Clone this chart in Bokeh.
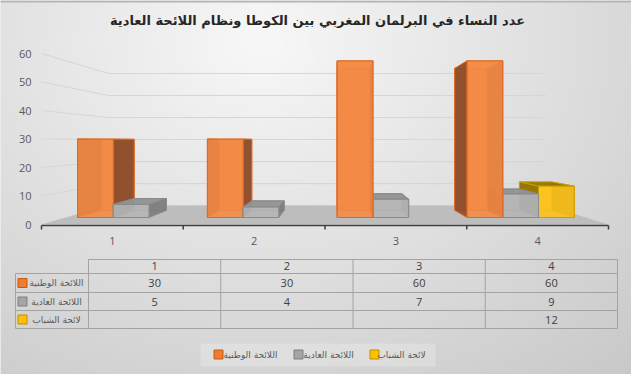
import numpy as np
from bokeh.plotting import figure
from bokeh.models import Range1d, ColumnDataSource
from bokeh.core.properties import value
from bokeh.embed import file_html
from bokeh.resources import INLINE

# ---------------- data ----------------
title_text = "عدد النساء في البرلمان المغربي بين الكوطا ونظام اللائحة العادية"
categories = ["1", "2", "3", "4"]
series_names = ["اللائحة الوطنية", "اللائحة العادية", "لائحة الشباب"]
national = [30, 30, 60, 60]
ordinary = [5, 4, 7, 9]
youth = [None, None, None, 12]
y_ticks = [0, 10, 20, 30, 40, 50, 60]

series_vals = [national, ordinary, youth]
series_front = ["#F28A44", "#B5B5B5", "#FCC21C"]
series_side = ["#86492A", "#7B7B7B", "#8C6E00"]
series_top = ["#F5A26A", "#939393", "#8F7505"]
series_edge = ["#DE6A22", "#8A8A8A", "#CC9D00"]
legend_fill = ["#ED7D31", "#A5A5A5", "#FFC000"]
legend_edge = ["#C55A11", "#7F7F7F", "#BF9000"]

# ---------------- layout helpers (reference pixel -> data units) ----------------
CW, CH = 631, 374
PX0, PXS = 41.0, 141.75
PY0, PYS = 224.0, 2.85


def X(px):
    return (px - PX0) / PXS


def Y(py):
    return (PY0 - py) / PYS


p = figure(width=CW, height=CH,
           x_range=Range1d(X(0), X(CW)), y_range=Range1d(Y(CH), Y(0)),
           output_backend="svg", toolbar_location=None, min_border=0,
           x_axis_location=None, y_axis_location=None, title=None)
p.grid.visible = False
p.outline_line_color = None
p.background_fill_color = "#e4e4e4"
p.border_fill_color = "#e4e4e4"

# background gradient
H, W = 94, 158
yy = np.linspace(CH, 0, H)
xx = np.linspace(0, CW, W)
gx, gy = np.meshgrid(xx, yy)
d = np.sqrt(((gx - 260) / 420) ** 2 + ((gy - 40) / 330) ** 2)
shade = np.clip(248 - 35 * d, 195, 250).astype(np.uint8)
img = np.empty((H, W), dtype=np.uint32)
view = img.view(dtype=np.uint8).reshape((H, W, 4))
view[..., 0] = shade
view[..., 1] = shade
view[..., 2] = shade
view[..., 3] = 255
p.image_rgba(image=[img], x=X(0), y=Y(CH), dw=X(CW) - X(0), dh=Y(0) - Y(CH))
p.segment([X(0)], [Y(1)], [X(CW)], [Y(1)], line_color="#b4b4b4", line_width=2)

# ---------------- 3D projection ----------------
CX, CY = X(335), Y(140.8)
S_FRONT, S_BACK = 1.0, 0.772      # floor / walls
SF, SB = 0.916, 0.83              # bar depth
n_cat = len(categories)


def proj(x, v, s):
    return CX + s * (x - CX), CY + s * (v - CY)


fl = [proj(0, 0, S_FRONT), proj(n_cat, 0, S_FRONT), proj(n_cat, 0, S_BACK), proj(0, 0, S_BACK)]

# gridlines: left wall + back wall
gx0, gy0, gx1, gy1 = [], [], [], []
for t in y_ticks:
    a = proj(0, t, S_FRONT)
    b = proj(0, t, S_BACK)
    c = proj(n_cat, t, S_BACK)
    gx0 += [a[0], b[0]]
    gy0 += [a[1], b[1]]
    gx1 += [b[0], c[0]]
    gy1 += [b[1], c[1]]
p.segment(gx0, gy0, gx1, gy1, line_color="#d6d6d6", line_width=1.2)
# floor
p.patch([q[0] for q in fl], [q[1] for q in fl], fill_color="#bdbdbd", line_color=None)

# bars
bar_w, gap = 0.275, 0.0875
bars = []
for j, vals in enumerate(series_vals):
    for i, v in enumerate(vals):
        if v is None:
            continue
        x0 = i + gap + j * bar_w
        x1 = x0 + bar_w
        bars.append((abs((x0 + x1) / 2 - CX), j, x0, x1, v))
bars.sort(key=lambda b: -b[0])

fx, fy, fc, fa, lc = [], [], [], [], []


def add_face(pts, color, alpha, edge):
    fx.append([q[0] for q in pts])
    fy.append([q[1] for q in pts])
    fc.append(color)
    fa.append(alpha)
    lc.append(edge)


for _, j, x0, x1, v in bars:
    back = [proj(x0, 0, SB), proj(x1, 0, SB), proj(x1, v, SB), proj(x0, v, SB)]
    left = [proj(x0, 0, SF), proj(x0, v, SF), proj(x0, v, SB), proj(x0, 0, SB)]
    right = [proj(x1, 0, SF), proj(x1, v, SF), proj(x1, v, SB), proj(x1, 0, SB)]
    top = [proj(x0, v, SF), proj(x1, v, SF), proj(x1, v, SB), proj(x0, v, SB)]
    front = [proj(x0, 0, SF), proj(x1, 0, SF), proj(x1, v, SF), proj(x0, v, SF)]
    add_face(back, series_front[j], 0.9, series_edge[j])
    if x1 < CX:
        add_face(left, series_side[j], 0.9, series_edge[j])
        add_face(top, series_top[j], 0.95, series_edge[j])
        add_face(right, series_side[j], 0.9, series_edge[j])
    else:
        add_face(right, series_side[j], 0.9, series_edge[j])
        add_face(top, series_top[j], 0.95, series_edge[j])
        add_face(left, series_side[j], 0.9, series_edge[j])
    add_face(front, series_front[j], 0.88, series_edge[j])

src = ColumnDataSource(dict(xs=fx, ys=fy, fc=fc, fa=fa, lc=lc))
p.patches("xs", "ys", source=src, fill_color="fc", fill_alpha="fa",
          line_color="lc", line_width=1)

# category axis
p.segment([0], [Y(225)], [n_cat], [Y(225)], line_color="#3f3f3f", line_width=1.5)
p.segment(list(range(n_cat + 1)), [Y(225)] * (n_cat + 1),
          list(range(n_cat + 1)), [Y(229)] * (n_cat + 1), line_color="#3f3f3f", line_width=1.5)
p.text(x=[i + 0.5 for i in range(n_cat)], y=[Y(240)] * n_cat, text=categories,
       text_align="center", text_baseline="middle", text_font=value("Open Sans"),
       text_font_size="11px", text_color="#595959")

# value axis labels
p.text(x=[X(31)] * len(y_ticks), y=y_ticks, text=[str(t) for t in y_ticks],
       text_align="right", text_baseline="middle", text_font=value("Open Sans"),
       text_font_size="11px", text_color="#595959")

# title
p.text(x=[X(317)], y=[Y(20)], text=[title_text], text_align="center", text_baseline="middle",
       text_font=value("DejaVu Sans"), text_font_style="bold", text_font_size="13px",
       text_color="#262626")

# ---------------- data table ----------------
col_edges = [88 + 132.25 * k for k in range(n_cat + 1)]
row_edges = [259, 273, 292, 310, 328]
row_centers = [282.5, 301, 319]
hx0, hy0, hx1, hy1 = [], [], [], []
hx0.append(X(col_edges[0])); hx1.append(X(col_edges[-1])); hy0.append(Y(row_edges[0])); hy1.append(Y(row_edges[0]))
for r in row_edges[1:]:
    hx0.append(X(15)); hx1.append(X(col_edges[-1])); hy0.append(Y(r)); hy1.append(Y(r))
hx0.append(X(15)); hx1.append(X(15)); hy0.append(Y(row_edges[1])); hy1.append(Y(row_edges[-1]))
for c in col_edges:
    hx0.append(X(c)); hx1.append(X(c)); hy0.append(Y(row_edges[0])); hy1.append(Y(row_edges[-1]))
p.segment(hx0, hy0, hx1, hy1, line_color="#a3a3a3", line_width=1)

col_centers = [X((col_edges[k] + col_edges[k + 1]) / 2) for k in range(n_cat)]
p.text(x=col_centers, y=[Y(265.5)] * n_cat, text=categories, text_align="center",
       text_baseline="middle", text_font=value("Open Sans"), text_font_size="11px",
       text_color="#404040")
for j, vals in enumerate(series_vals):
    xs_t = [col_centers[k] for k in range(n_cat) if vals[k] is not None]
    ts = [str(vals[k]) for k in range(n_cat) if vals[k] is not None]
    p.text(x=xs_t, y=[Y(row_centers[j])] * len(ts), text=ts, text_align="center",
           text_baseline="middle", text_font=value("Open Sans"), text_font_size="11px",
           text_color="#404040")

p.scatter(x=[X(22)] * 3, y=[Y(r) for r in row_centers], marker="square", size=9,
          fill_color=legend_fill, line_color=legend_edge, line_width=1)
p.text(x=[X(56)] * 3, y=[Y(r) for r in row_centers], text=series_names, text_align="center",
       text_baseline="middle", text_font=value("DejaVu Sans"), text_font_size="9px",
       text_color="#595959")

# ---------------- legend ----------------
p.quad(left=[X(200)], right=[X(435)], bottom=[Y(366)], top=[Y(343)],
       fill_color="#ffffff", fill_alpha=0.22, line_color=None)
leg_box_x = [218, 298, 374]
leg_txt_x = [250, 328, 401]
p.scatter(x=[X(v) for v in leg_box_x], y=[Y(354)] * 3, marker="square", size=9,
          fill_color=legend_fill, line_color=legend_edge, line_width=1)
p.text(x=[X(v) for v in leg_txt_x], y=[Y(354)] * 3, text=series_names, text_align="center",
       text_baseline="middle", text_font=value("DejaVu Sans"), text_font_size="9px",
       text_color="#595959")

open("out.html", "w").write(file_html(p, INLINE))
